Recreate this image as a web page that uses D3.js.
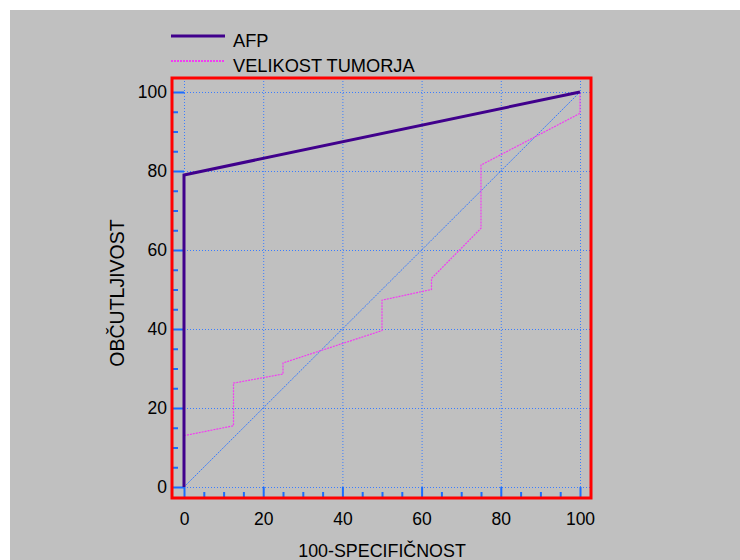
<!DOCTYPE html>
<html>
<head>
<meta charset="utf-8">
<script src="https://cdn.jsdelivr.net/npm/d3@7"></script>
<style>
  body { margin: 0; background: #fff; }
  svg text { font-family: "Liberation Sans", Arial, sans-serif; }
</style>
</head>
<body>
<div id="chart"></div>
<script>
"use strict"

// series
let seriesNames = ["AFP", "VELIKOST TUMORJA"];
let afpX = [0, 0, 100];
let afpY = [0, 79, 100];
let tumorX = [0, 12.5, 12.5, 25, 25, 50, 50, 62.5, 62.5, 75, 75, 100, 100];
let tumorY = [13, 15.5, 26.3, 28.6, 31.4, 39.6, 47.3, 50, 52.8, 65.5, 81.5, 94.6, 100];
let diagX = [0, 100];
let diagY = [0, 100];
let majorTicks = [0, 20, 40, 60, 80, 100];
let minorTicks = [5, 10, 15, 25, 30, 35, 45, 50, 55, 65, 70, 75, 85, 90, 95];
let xTitle = "100-SPECIFIČNOST";
let yTitle = "OBČUTLJIVOST";

let svg = d3.select("#chart").append("svg")
    .attr("width", 740)
    .attr("height", 560);

svg.append("rect")
    .attr("x", 10).attr("y", 10)
    .attr("width", 730).attr("height", 550)
    .style("fill", "#c0c0c0");

// frame and data area
let frame = { left: 172, top: 78, right: 591, bottom: 498 };

let x = d3.scaleLinear().domain([0, 100]).range([184, 580]);
let y = d3.scaleLinear().domain([0, 100]).range([487, 92]);

let blue = "#1a6cff";
let gridBlue = "#3a7dff";
let purple = "#40008c";
let magenta = "#f23cf2";

// grid lines
svg.append("g")
    .attr("transform", "translate(0," + frame.top + ")")
    .call(d3.axisBottom(x).tickValues(majorTicks).tickSize(frame.bottom - frame.top).tickFormat(""))
    .call(g => g.select(".domain").remove())
    .call(g => g.selectAll("line")
        .style("stroke", gridBlue).style("stroke-dasharray", "1,2").style("stroke-width", 1));

svg.append("g")
    .attr("transform", "translate(" + frame.left + ",0)")
    .call(d3.axisRight(y).tickValues(majorTicks).tickSize(frame.right - frame.left).tickFormat(""))
    .call(g => g.select(".domain").remove())
    .call(g => g.selectAll("line")
        .style("stroke", gridBlue).style("stroke-dasharray", "1,2").style("stroke-width", 1));

// ticks pointing into the frame
function styleAxis(g) {
    g.select(".domain").remove();
    g.selectAll("line").style("stroke", blue).style("stroke-width", 2);
    g.selectAll("text")
        .style("font-size", "17.5px")
        .style("fill", "#000");
}

svg.append("g")
    .attr("transform", "translate(" + frame.left + ",0)")
    .call(d3.axisLeft(y).tickValues(majorTicks).tickSize(-(x(0) - frame.left)).tickPadding(5))
    .call(styleAxis)
    .call(g => g.selectAll("text").attr("x", -5));

svg.append("g")
    .attr("transform", "translate(" + frame.left + ",0)")
    .call(d3.axisLeft(y).tickValues(minorTicks).tickSize(-6).tickFormat(""))
    .call(styleAxis);

svg.append("g")
    .attr("transform", "translate(0," + frame.bottom + ")")
    .call(d3.axisBottom(x).tickValues(majorTicks).tickSize(-(frame.bottom - y(0))).tickPadding(14))
    .call(styleAxis)
    .call(g => g.selectAll("text").attr("y", 15));

svg.append("g")
    .attr("transform", "translate(0," + frame.bottom + ")")
    .call(d3.axisBottom(x).tickValues(minorTicks).tickSize(-6).tickFormat(""))
    .call(styleAxis);

// lines
let line = d3.line()
    .x(d => x(d[0]))
    .y(d => y(d[1]));

svg.append("path")
    .datum(d3.zip(diagX, diagY))
    .attr("d", line)
    .style("fill", "none")
    .style("stroke", gridBlue)
    .style("stroke-width", 1)
    .style("stroke-dasharray", "2,1");

svg.append("path")
    .datum(d3.zip(tumorX, tumorY))
    .attr("d", line)
    .style("fill", "none")
    .style("stroke", magenta)
    .style("stroke-width", 1.2)
    .style("stroke-dasharray", "2,1");

svg.append("path")
    .datum(d3.zip(afpX, afpY))
    .attr("d", line)
    .style("fill", "none")
    .style("stroke", purple)
    .style("stroke-width", 3);

// red frame
svg.append("rect")
    .attr("x", frame.left).attr("y", frame.top)
    .attr("width", frame.right - frame.left)
    .attr("height", frame.bottom - frame.top)
    .style("fill", "none")
    .style("stroke", "#ff0000")
    .style("stroke-width", 3);

// axis titles (source font is a little taller than it is wide)
svg.append("text")
    .attr("transform", "translate(382,557) scale(0.94,1)")
    .style("text-anchor", "middle")
    .style("font-size", "19px")
    .text(xTitle);

svg.append("text")
    .attr("transform", "translate(124,293) rotate(-90)")
    .style("text-anchor", "middle")
    .style("font-size", "19.5px")
    .text(yTitle);

// legend
let legendStyles = [
    { stroke: purple, width: 3, dash: null },
    { stroke: magenta, width: 2, dash: "2,1" }
];

seriesNames.forEach(function(name, i) {
    let ly = 36 + i * 25;
    svg.append("line")
        .attr("x1", 171).attr("x2", 225)
        .attr("y1", ly).attr("y2", ly)
        .style("stroke", legendStyles[i].stroke)
        .style("stroke-width", legendStyles[i].width)
        .style("stroke-dasharray", legendStyles[i].dash);
    svg.append("text")
        .attr("transform", "translate(233," + (ly + 10.5) + ") scale(0.96,1)")
        .style("font-size", "19px")
        .text(name);
});
</script>
</body>
</html>
